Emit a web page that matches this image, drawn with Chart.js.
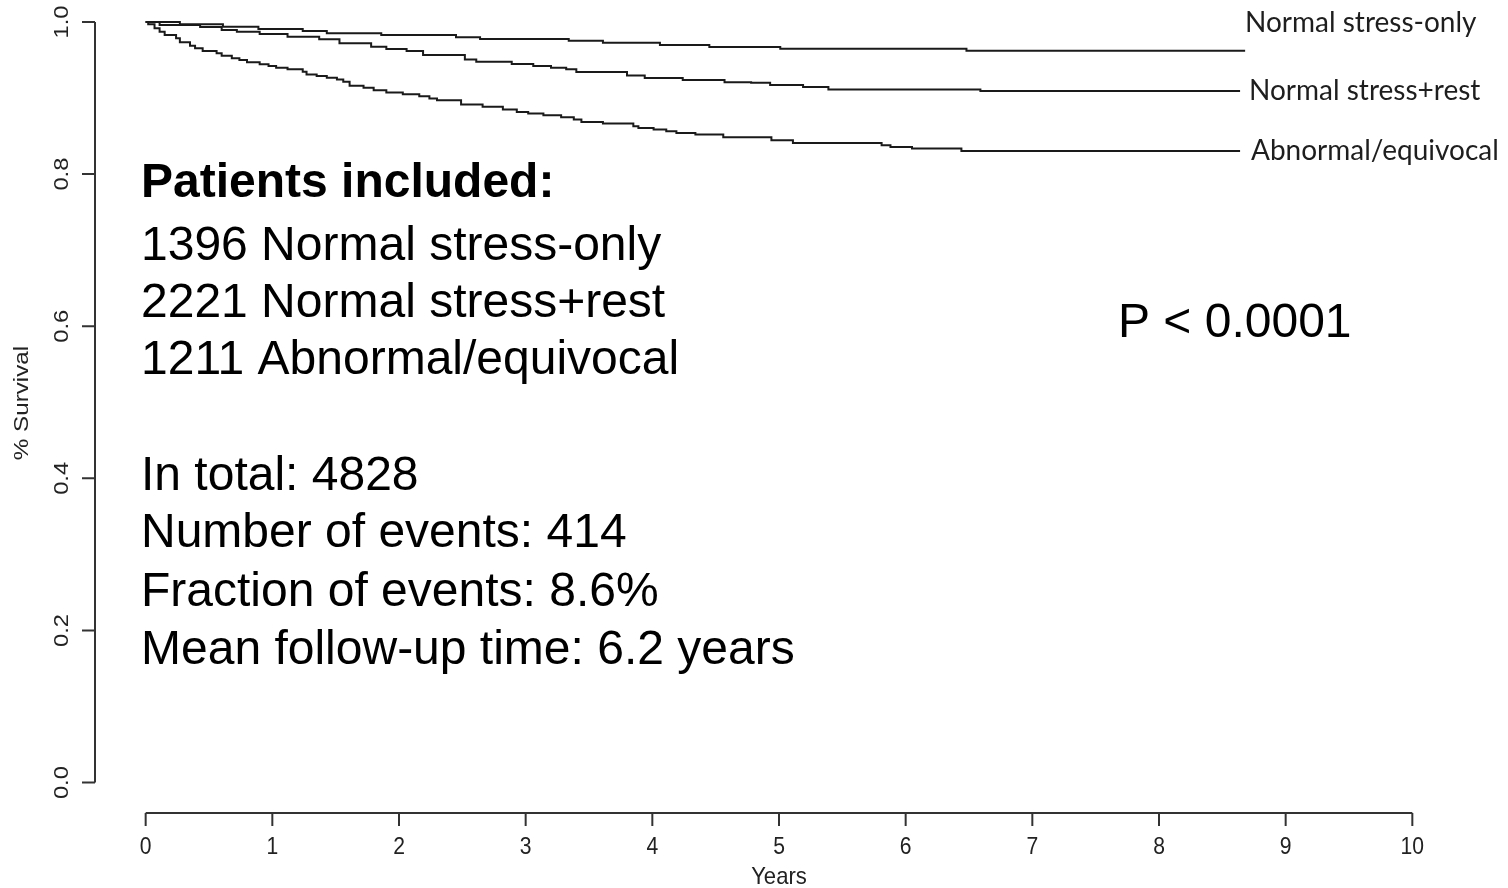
<!DOCTYPE html>
<html>
<head>
<meta charset="utf-8">
<script src="https://cdn.jsdelivr.net/npm/chart.js@4.4.1/dist/chart.umd.min.js"></script>
<style>
  html, body { margin: 0; padding: 0; background: #fff; }
  #wrap { width: 1508px; height: 888px; }
</style>
</head>
<body>
<div id="wrap"><canvas id="kmChart" width="1508" height="888"></canvas></div>
<script>
// Kaplan-Meier curves (years, survival fraction)
const stressOnlyYears = [0, 0.27, 0.61, 0.89, 1.24, 1.43, 1.86, 2.45, 2.64, 3.34, 3.61, 4.06, 4.45, 5.01, 6.48, 8.68];
const stressOnlySurv = [1.0, 0.997, 0.9938, 0.9908, 0.9881, 0.9851, 0.9829, 0.9798, 0.9776, 0.9754, 0.9727, 0.9697, 0.9671, 0.9648, 0.9622, 0.9622];

const stressRestYears = [0, 0.11, 0.43, 0.60, 0.72, 0.90, 1.12, 1.37, 1.53, 1.78, 1.90, 2.06, 2.19, 2.52, 2.61,
  2.89, 3.06, 3.20, 3.32, 3.40, 3.80, 3.94, 4.24, 4.57, 4.78, 4.93, 5.19, 5.39, 6.59, 8.64];
const stressRestSurv = [1.0, 0.996, 0.9934, 0.9895, 0.9872, 0.9842, 0.9806, 0.9772, 0.9719, 0.9675, 0.9644, 0.9618, 0.9565, 0.9507, 0.9476,
  0.9449, 0.9420, 0.9398, 0.9377, 0.9341, 0.9297, 0.9262, 0.9236, 0.9209, 0.9200, 0.9170, 0.9144, 0.9113, 0.9091, 0.9091];

const abnormalYears = [0, 0.02, 0.07, 0.11, 0.15, 0.24, 0.27, 0.35, 0.39, 0.45, 0.56, 0.60, 0.68, 0.74, 0.80,
  0.90, 0.97, 1.03, 1.12, 1.24, 1.27, 1.35, 1.43, 1.51, 1.56, 1.61, 1.72, 1.80, 1.90, 2.03, 2.16, 2.24, 2.30,
  2.49, 2.66, 2.82, 2.93, 3.02, 3.14, 3.28, 3.38, 3.44, 3.61, 3.85, 3.89, 4.01, 4.11, 4.19, 4.34, 4.56,
  4.94, 5.11, 5.81, 5.88, 6.05, 6.44, 8.64];
const abnormalSurv = [1.0, 0.997, 0.9917, 0.9872, 0.9829, 0.9785, 0.9732, 0.9688, 0.9653, 0.9618, 0.9588, 0.9556, 0.9522, 0.9499, 0.9469,
  0.9443, 0.9420, 0.9398, 0.9377, 0.9345, 0.9311, 0.9289, 0.9266, 0.9245, 0.9214, 0.9161, 0.9134, 0.9104, 0.9074, 0.9051, 0.9025, 0.8995, 0.8972,
  0.8916, 0.8884, 0.8850, 0.8818, 0.8797, 0.8775, 0.8748, 0.8718, 0.8686, 0.8665, 0.8630, 0.8607, 0.8586, 0.8564, 0.8542, 0.8520, 0.8485,
  0.8445, 0.8410, 0.8379, 0.8357, 0.8336, 0.8304, 0.8304];

const groupLabels = ['Normal stress-only', 'Normal stress+rest', 'Abnormal/equivocal'];

const xTicks = [0, 1, 2, 3, 4, 5, 6, 7, 8, 9, 10];
const yTicks = [0, 0.2, 0.4, 0.6, 0.8, 1.0];
const yTickLabels = ['0.0', '0.2', '0.4', '0.6', '0.8', '1.0'];

const infoTitle = 'Patients included:';
const infoGroups = ['1396 Normal stress-only', '2221 Normal stress+rest', '1211 Abnormal/equivocal'];
const infoStats = ['In total: 4828', 'Number of events: 414', 'Fraction of events: 8.6%', 'Mean follow-up time: 6.2 years'];
const pValueText = 'P < 0.0001';

function toPoints(xs, ys) {
  return xs.map((x, i) => ({ x: x, y: ys[i] }));
}

const curveStyle = {
  borderColor: '#1a1a1a',
  borderWidth: 2,
  pointRadius: 0,
  stepped: true,
  fill: false,
};

const axisFont = '"Liberation Sans", Arial, sans-serif';

// text squeezed sideways, like the stretched R export
function narrowText(ctx, text, x, y, sx) {
  ctx.save();
  ctx.translate(x, y);
  ctx.scale(sx, 1);
  ctx.fillText(text, 0, 0);
  ctx.restore();
}

const rPlotAxes = {
  id: 'rPlotAxes',
  afterDraw(chart) {
    const ctx = chart.ctx;
    const xs = chart.scales.x;
    const ys = chart.scales.y;
    const area = chart.chartArea;
    ctx.save();
    ctx.strokeStyle = '#333';
    ctx.lineWidth = 2;
    ctx.fillStyle = '#222';

    // x axis
    const xAxisY = area.bottom;
    ctx.beginPath();
    ctx.moveTo(xs.getPixelForValue(xTicks[0]), xAxisY);
    ctx.lineTo(xs.getPixelForValue(xTicks[xTicks.length - 1]), xAxisY);
    xTicks.forEach((t) => {
      const px = xs.getPixelForValue(t);
      ctx.moveTo(px, xAxisY);
      ctx.lineTo(px, xAxisY + 13);
    });
    ctx.stroke();
    ctx.font = '24px ' + axisFont;
    ctx.textAlign = 'center';
    ctx.textBaseline = 'middle';
    xTicks.forEach((t) => {
      narrowText(ctx, String(t), xs.getPixelForValue(t), 847, 0.88);
    });
    narrowText(ctx, 'Years', xs.getPixelForValue(5), 877, 0.92);

    // y axis
    const yAxisX = area.left;
    ctx.beginPath();
    ctx.moveTo(yAxisX, ys.getPixelForValue(yTicks[0]));
    ctx.lineTo(yAxisX, ys.getPixelForValue(yTicks[yTicks.length - 1]));
    yTicks.forEach((t) => {
      const py = ys.getPixelForValue(t);
      ctx.moveTo(yAxisX, py);
      ctx.lineTo(yAxisX - 13, py);
    });
    ctx.stroke();
    ctx.font = '22px ' + axisFont;
    yTicks.forEach((t, i) => {
      ctx.save();
      ctx.translate(63, ys.getPixelForValue(t));
      ctx.rotate(-Math.PI / 2);
      ctx.scale(1.08, 0.9);
      ctx.fillText(yTickLabels[i], 0, 0);
      ctx.restore();
    });
    ctx.save();
    ctx.translate(23, 403);
    ctx.rotate(-Math.PI / 2);
    ctx.scale(1.1, 0.9);
    ctx.fillText('% Survival', 0, 0);
    ctx.restore();

    // curve labels at the right
    ctx.font = '28px Lato, "Open Sans", sans-serif';
    ctx.textAlign = 'left';
    ctx.textBaseline = 'alphabetic';
    ctx.fillStyle = '#1e1e1e';
    ctx.fillText(groupLabels[0], 1245, 32);
    ctx.fillText(groupLabels[1], 1249, 100);
    ctx.fillText(groupLabels[2], 1251, 160);

    // annotation block
    ctx.fillStyle = '#000';
    ctx.font = 'bold 48px ' + axisFont;
    ctx.fillText(infoTitle, 141, 197);
    ctx.font = '48px ' + axisFont;
    const groupBase = [260, 317, 374];
    infoGroups.forEach((s, i) => ctx.fillText(s, 141, groupBase[i]));
    const statBase = [490, 547, 606, 664];
    infoStats.forEach((s, i) => ctx.fillText(s, 141, statBase[i]));
    ctx.fillText(pValueText, 1118, 337);
    ctx.restore();
  },
};

const ctxKm = document.getElementById('kmChart').getContext('2d');
const kmChart = new Chart(ctxKm, {
  type: 'line',
  data: {
    datasets: [
      Object.assign({ label: groupLabels[0], data: toPoints(stressOnlyYears, stressOnlySurv) }, curveStyle),
      Object.assign({ label: groupLabels[1], data: toPoints(stressRestYears, stressRestSurv) }, curveStyle),
      Object.assign({ label: groupLabels[2], data: toPoints(abnormalYears, abnormalSurv) }, curveStyle),
    ],
  },
  options: {
    responsive: false,
    animation: false,
    devicePixelRatio: 1,
    layout: { padding: { left: 95, right: 45, top: 0, bottom: 75 } },
    plugins: {
      legend: { display: false },
      tooltip: { enabled: false },
    },
    scales: {
      x: { type: 'linear', min: -0.4, max: 10.4, display: false },
      y: { type: 'linear', min: -0.04, max: 1.0289, display: false },
    },
  },
  plugins: [rPlotAxes],
});
</script>
</body>
</html>
